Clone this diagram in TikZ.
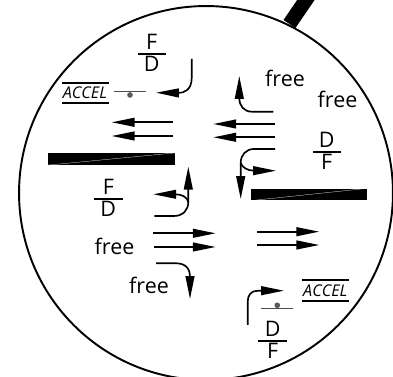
\documentclass[tikz,border=0pt]{standalone}
\usepackage{fontspec}
\setmainfont{Open Sans}
\usetikzlibrary{arrows.meta}
\tikzset{
    lab/.style={inner sep=0pt,font=\fontsize{12.2pt}{14pt}\selectfont},
    accel/.style={inner sep=0pt,font=\fontsize{9.2pt}{11pt}\selectfont\itshape},
    rulebar/.style={fill=black,inner sep=0pt,minimum height=1pt,minimum width=#1},
    fracbar/.style={rulebar=16.5pt},
    accelbar/.style={rulebar=27pt},
    deck/.style={fill=black,inner sep=0pt,minimum height=6.6pt,minimum width=#1},
    track/.style={fill=black!70,inner sep=0pt,minimum height=0.6pt,minimum width=18pt},
    mass/.style={circle,fill=black!65,inner sep=0pt,minimum size=3.2pt},
    flow/.style={-{Triangle[length=13pt,width=5pt]},line width=0.95pt},
}
\begin{document}
\begin{tikzpicture}[x=0.02cm,y=-0.02cm]
    \useasboundingbox (0,0) rectangle (393,377);

    \node[circle,draw,line width=1.1pt,inner sep=0pt,minimum size=7.48cm] (lens) at (206,193) {};
    \coordinate (h0) at (289.5,24);
    \coordinate (h1) at (312,-9);
    \draw[line width=8.2pt] (h0) -- (h1);

    \node[deck=72.3pt] (deckl) at (111.5,159) {};
    \node[deck=66pt] (deckr) at (309,194.5) {};
    \draw[white,line width=0.15pt] (deckl.south west) -- (deckl.north east);
    \draw[white,line width=0.15pt] (deckr.south west) -- (deckr.north east);

    % fractions
    \node[lab] (f1) at (151.7,42) {F};
    \node[fracbar] (b1) at (152,54) {};
    \node[lab] (d1) at (151.7,64) {D};
    \node[lab] (d2) at (326.7,140) {D};
    \node[fracbar] (b2) at (327,152.3) {};
    \node[lab] (f2) at (326.7,161.7) {F};
    \node[lab] (f3) at (108.3,186.7) {F};
    \node[fracbar] (b3) at (108.3,199) {};
    \node[lab] (d3) at (108.3,209.3) {D};
    \node[lab] (d4) at (272.7,329.3) {D};
    \node[fracbar] (b4) at (272.4,341) {};
    \node[lab] (f4) at (272.7,350.7) {F};

    \node[lab,anchor=base] (free1) at (285,86.7) {free};
    \node[lab,anchor=base] (free2) at (337.5,108) {free};
    \node[lab,anchor=base] (free3) at (114.5,254.3) {free};
    \node[lab,anchor=base] (free4) at (149,293.3) {free};

    \node[accel] (accel1) at (85,92.7) {ACCEL};
    \node[accelbar] (over1) at (85.3,82.7) {};
    \node[accelbar] (under1) at (85.3,102.7) {};
    \node[track] (track1) at (130,91.7) {};
    \node[mass] (mass1) at (130,95) {};
    \node[accel] (accel2) at (325.3,291) {ACCEL};
    \node[accelbar] (over2) at (325.5,280) {};
    \node[accelbar] (under2) at (325.5,300.7) {};
    \node[track] (track2) at (277.2,308.3) {};
    \node[mass] (mass2) at (277.3,305.3) {};

    % top left
    \coordinate (a0) at (191.7,59);
    \coordinate (a1) at (191.7,78);
    \coordinate (a2) at (156,92.7);
    \draw[flow] (a0) -- (a1) .. controls (191.7,90) and (184,93) .. (a2);
    \coordinate (l1s) at (173,122.3);
    \coordinate (l1e) at (111.7,122.3);
    \coordinate (l2s) at (173,136);
    \coordinate (l2e) at (111.7,136);
    \draw[flow] (l1s) -- (l1e);
    \draw[flow] (l2s) -- (l2e);

    % top right
    \coordinate (c0) at (273.3,111.7);
    \coordinate (c1) at (252,111.7);
    \coordinate (c2) at (239.3,76);
    \draw[flow] (c0) -- (c1) .. controls (244,111.7) and (239.3,106) .. (239.3,98) -- (c2);
    \coordinate (l3s) at (275.3,124);
    \coordinate (l3e) at (213.3,124);
    \coordinate (l4s) at (275.3,137.3);
    \coordinate (l4e) at (213.3,137.3);
    \draw[flow] (l3s) -- (l3e);
    \draw[flow] (l4s) -- (l4e);
    \coordinate (e0) at (275,149);
    \coordinate (e1) at (254,149);
    \coordinate (e2) at (240.7,163);
    \coordinate (e3) at (240.7,199);
    \coordinate (e4) at (276,170.7);
    \draw[flow] (e0) -- (e1) .. controls (246,149) and (240.7,155) .. (e2) -- (e3);
    \draw[flow] (e2) .. controls (242,167) and (247,170.7) .. (254,170.7) -- (e4);

    % bottom left
    \coordinate (g0) at (154.3,216);
    \coordinate (g1) at (174,216);
    \coordinate (g2) at (188.3,202);
    \coordinate (g3) at (188.3,166.7);
    \coordinate (g4) at (153.3,194.3);
    \draw[flow] (g0) -- (g1) .. controls (183,216) and (188.3,210) .. (g2) -- (g3);
    \draw[flow] (g2) .. controls (187,197) and (182,194.3) .. (175,194.3) -- (g4);
    \coordinate (r1s) at (153.3,233.3);
    \coordinate (r1e) at (215.7,233.3);
    \coordinate (r2s) at (154,247);
    \coordinate (r2e) at (215.7,247);
    \draw[flow] (r1s) -- (r1e);
    \draw[flow] (r2s) -- (r2e);
    \coordinate (k0) at (156,263.3);
    \coordinate (k1) at (176,263.3);
    \coordinate (k2) at (190,299);
    \draw[flow] (k0) -- (k1) .. controls (185,263.3) and (190,268) .. (190,277) -- (k2);

    % bottom right
    \coordinate (r3s) at (257.3,231.7);
    \coordinate (r3e) at (319.3,231.7);
    \coordinate (r4s) at (257.3,245);
    \coordinate (r4e) at (319.3,245);
    \draw[flow] (r3s) -- (r3e);
    \draw[flow] (r4s) -- (r4e);
    \coordinate (m0) at (247.7,325);
    \coordinate (m1) at (247.7,302);
    \coordinate (m2) at (284,290.7);
    \draw[flow] (m0) -- (m1) .. controls (247.7,295) and (251,290.7) .. (258,290.7) -- (m2);
\end{tikzpicture}
\end{document}
